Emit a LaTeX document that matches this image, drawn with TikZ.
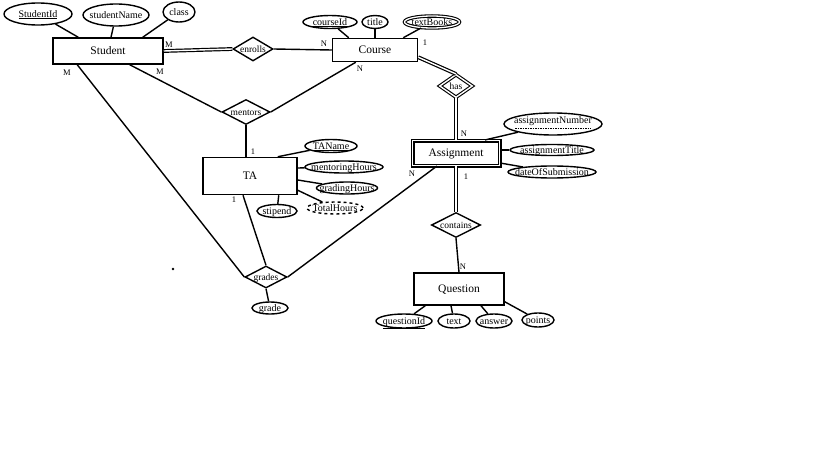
\documentclass[tikz,border=0pt]{standalone}
\usepackage{fontspec}
\setmainfont{Liberation Serif}
\usetikzlibrary{shapes.geometric,calc}
\newcommand{\zz}[1]{\makebox[0pt]{#1}}
\begin{document}
\begin{tikzpicture}[x=1pt,y=-1pt,
 every node/.style={inner sep=0pt, text height=6.4pt, text depth=0pt},
 ent/.style={draw, line width=1.5pt, rectangle, font=\fontsize{11.5}{12}\selectfont},
 attr/.style={draw, ellipse, line width=1.4pt, font=\fontsize{10}{11}\selectfont},
 rel/.style={draw, diamond, line width=1.4pt, font=\fontsize{9.5}{10}\selectfont},
 card/.style={font=\fontsize{8.5}{9}\selectfont},
 ln/.style={line width=1.4pt},
 dbl/.style={double, double distance=1.4pt, line width=1.2pt},
]
\useasboundingbox (0,0) rectangle (819,460);
% entities
\node[ent, minimum width=110pt, minimum height=26pt] (st) at (108,51) {\zz{Student}};
\node[ent, minimum width=85pt, minimum height=23pt] (co) at (375,50) {\zz{Course}};
\node[ent, double, double distance=1.8pt, line width=1.1pt, minimum width=87pt, minimum height=25pt] (asg) at (456,153) {\zz{Assignment}};
\node[ent, minimum width=90pt, minimum height=32pt] (q) at (459,289) {\zz{Question}};
\node[ent, minimum width=94pt, minimum height=37pt] (ta) at (250,176) {\zz{TA}};
% relationships
\node[rel, minimum width=40pt, minimum height=24pt] (en) at (253,49) {\zz{enrolls}};
\node[rel, double, double distance=1.4pt, line width=1.1pt, minimum width=33pt, minimum height=23pt] (has) at (456,86) {\zz{has}};
\node[rel, minimum width=49pt, minimum height=25pt] (ct) at (456,225) {\zz{contains}};
\node[rel, minimum width=48pt, minimum height=25pt] (me) at (246,112) {\zz{mentors}};
\node[rel, minimum width=42pt, minimum height=22pt] (gr) at (266,277) {\zz{grades}};
% attributes
\node[attr, minimum width=68pt, minimum height=22pt] (sid) at (38,14) {\zz{\underline{StudentId}}};
\node[attr, minimum width=66pt, minimum height=22pt] (sn) at (116,15) {\zz{studentName}};
\node[attr, minimum width=32pt, minimum height=20pt] (cl) at (179,12) {\zz{class}};
\node[attr, minimum width=54pt, minimum height=13pt] (cid) at (330,22) {\zz{\underline{courseId}}};
\node[attr, minimum width=26pt, minimum height=13pt] (ti) at (375,22) {\zz{title}};
\node[attr, double, double distance=1.3pt, line width=1.1pt, minimum width=55pt, minimum height=12pt] (tb) at (432,22) {\zz{textBooks}};
\node[attr, minimum width=98pt, minimum height=22pt] (an) at (553,124) {};
\node[font=\fontsize{10}{11}\selectfont] (antext) at ($(an.center)+(0,-4)$) {assignmentNumber};
\draw[dash pattern=on 1.5pt off 1pt, line width=0.5pt] ($(an.center)+(-38,4)$) -- ($(an.center)+(38,4)$);
\node[attr, minimum width=84pt, minimum height=11pt] (at) at (552,150) {\zz{assignmentTitle}};
\node[attr, minimum width=88pt, minimum height=12pt] (ds) at (552,172) {\zz{dateOfSubmission}};
\node[attr, minimum width=56pt, minimum height=14pt] (qid) at (404,321) {\zz{\underline{questionId}}};
\node[attr, minimum width=32pt, minimum height=14pt] (tx) at (454,321) {\zz{text}};
\node[attr, minimum width=36pt, minimum height=14pt] (aw) at (494,321) {\zz{answer}};
\node[attr, minimum width=32pt, minimum height=14pt] (pt) at (538,320) {\zz{points}};
\node[attr, minimum width=52pt, minimum height=13pt] (tan) at (331,146) {\zz{\underline{TAName}}};
\node[attr, minimum width=78pt, minimum height=12pt] (mh) at (344,167) {\zz{mentoringHours}};
\node[attr, minimum width=61pt, minimum height=12pt] (gh) at (347,188) {\zz{gradingHours}};
\node[attr, dashed, minimum width=56pt, minimum height=12pt] (th) at (335,208) {\zz{TotalHours}};
\node[attr, minimum width=40pt, minimum height=13pt] (sp) at (277,211) {\zz{stipend}};
\node[attr, minimum width=36pt, minimum height=12pt] (gd) at (270,308) {\zz{grade}};
\fill (173,269) circle (1.3pt);
% connectors
\draw[ln] (sid) -- ($(st.north west)+(26,0)$);
\draw[ln] (sn) -- ($(st.north)+(3,0)$);
\draw[ln] (cl) -- ($(st.north east)+(-21,0)$);
\draw[dbl] (st.east) -- (en.west);
\draw[ln] (en.east) -- (co.west);
\draw[ln] (cid) -- ($(co.north west)+(17,0)$);
\draw[ln] (ti) -- (co.north);
\draw[ln] (tb) -- ($(co.north east)+(-15,0)$);
\draw[dbl] ($(co.south east)+(0,-5)$) -- (has.north);
\draw[dbl] (has.south) -- (asg.north);
\draw[ln] ($(st.south east)+(-34,0)$) -- (me.west);
\draw[ln] ($(co.south west)+(24,0)$) -- (me.east);
\draw[ln] (me.south) -- (me.south |- ta.north);
\draw[ln] ($(ta.north east)+(-20,0)$) -- (tan);
\draw[ln] ($(ta.east)+(0,-8)$) -- (mh);
\draw[ln] ($(ta.east)+(0,4)$) -- (gh);
\draw[ln] ($(ta.south east)+(0,-5)$) -- (th);
\draw[ln] ($(ta.south east)+(-19,0)$) -- (sp);
\draw[ln] ($(st.south west)+(25,0)$) -- (gr.west);
\draw[ln] ($(ta.south)+(-7,0)$) -- (gr.north);
\draw[ln] (gr.east) -- ($(asg.south west)+(25,0)$);
\draw[ln] (gr.south) -- (gd);
\draw[ln] ($(asg.north east)+(-15,0)$) -- (an);
\draw[ln] ($(asg.east)+(0,-3)$) -- (at);
\draw[ln] ($(asg.east)+(0,10)$) -- (ds);
\draw[dbl] (asg.south) -- (ct.north);
\draw[ln] (ct.south) -- (q.north);
\draw[ln] ($(q.south west)+(12,0)$) -- (qid);
\draw[ln] ($(q.south)+(-8,0)$) -- (tx);
\draw[ln] ($(q.south)+(22,0)$) -- (aw);
\draw[ln] ($(q.south east)+(0,-4)$) -- (pt);
% cardinalities
\node[card] (c1) at (169,44) {M};
\node[card] (c2) at (67,72) {M};
\node[card] (c3) at (160,71) {M};
\node[card] (c4) at (324,43) {N};
\node[card] (c5) at (425,42) {1};
\node[card] (c6) at (360,68) {N};
\node[card] (c7) at (253,151) {1};
\node[card] (c8) at (234,199) {1};
\node[card] (c9) at (464,133) {N};
\node[card] (c10) at (412,173) {N};
\node[card] (c11) at (466,176) {1};
\node[card] (c12) at (463,266) {N};
\end{tikzpicture}
\end{document}
